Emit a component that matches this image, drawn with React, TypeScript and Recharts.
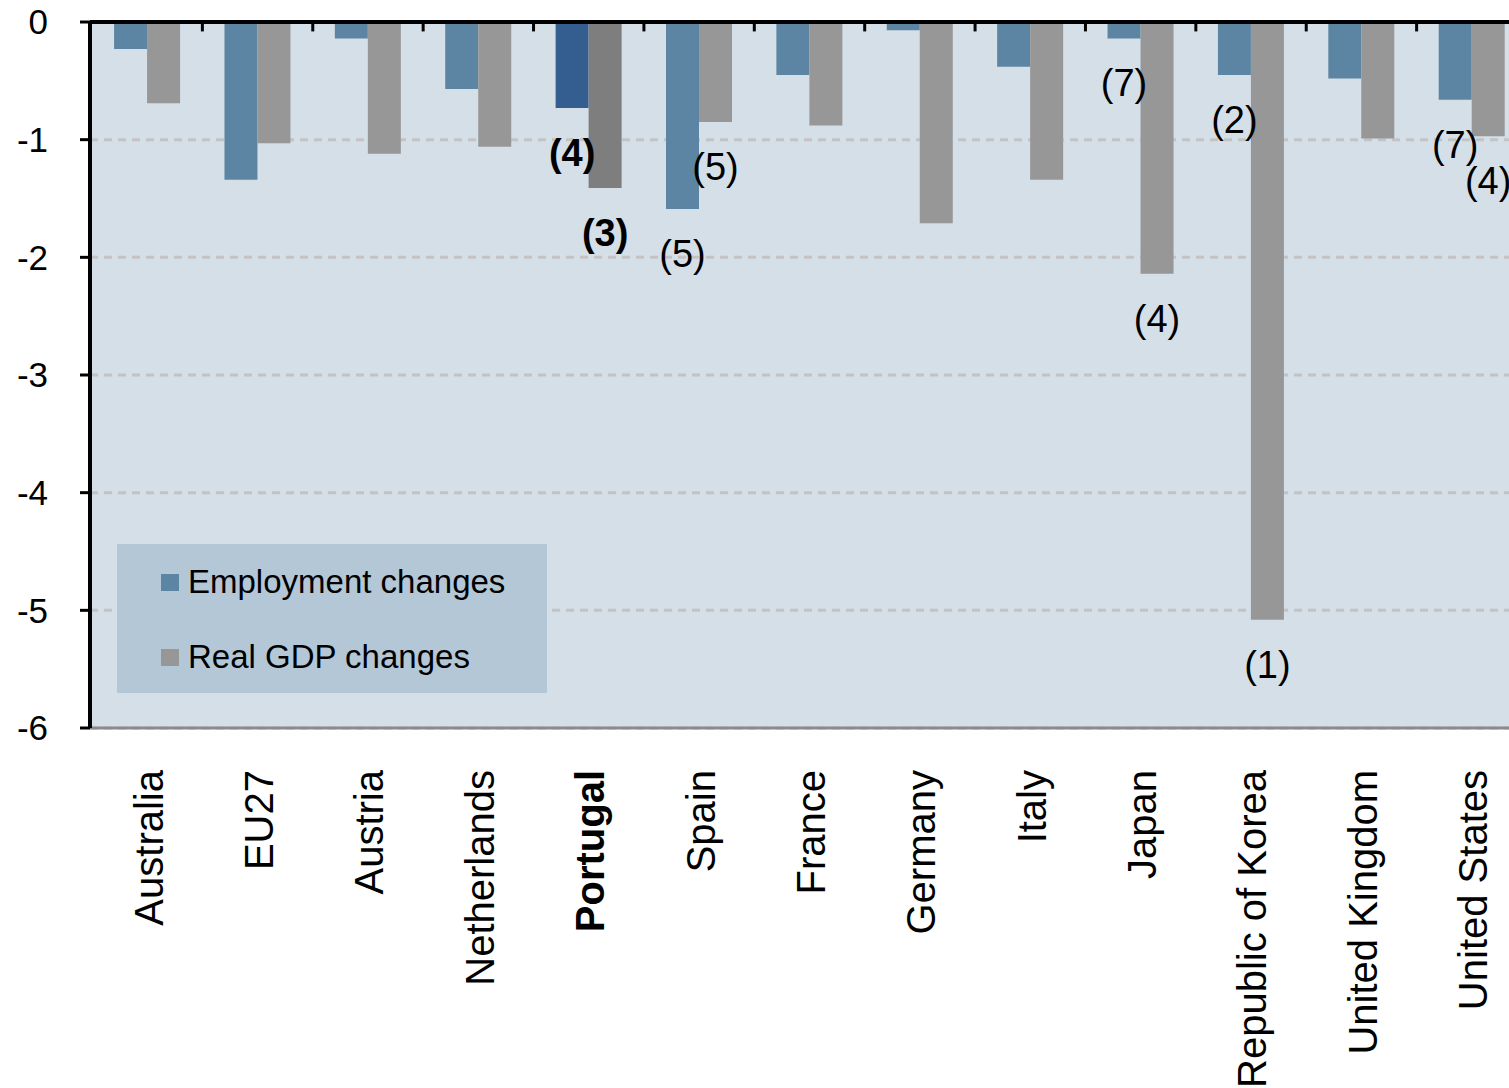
import { BarChart, Bar, XAxis, YAxis, CartesianGrid, Legend, LabelList, Cell, ReferenceLine } from "recharts";

const countries = [
  "Australia", "EU27", "Austria", "Netherlands", "Portugal", "Spain", "France",
  "Germany", "Italy", "Japan", "Republic of Korea", "United Kingdom", "United States",
];
const employment = [-0.23, -1.34, -0.14, -0.57, -0.73, -1.59, -0.45, -0.07, -0.38, -0.14, -0.45, -0.48, -0.66];
const realGdp = [-0.69, -1.03, -1.12, -1.06, -1.41, -0.85, -0.88, -1.71, -1.34, -2.14, -5.08, -0.99, -0.97];
const employmentNotes = ["", "", "", "", "(4)", "(5)", "", "", "", "(7)", "(2)", "", "(7)"];
const gdpNotes = ["", "", "", "", "(3)", "(5)", "", "", "", "(4)", "(1)", "", "(4)"];
const yTicks = [0, -1, -2, -3, -4, -5, -6];
const highlight = "Portugal";

const FONT = "Arial, 'Liberation Sans', sans-serif";
const EMP = "#5b85a2";
const EMP_DARK = "#355e90";
const GDP = "#979797";
const GDP_DARK = "#7e7e7e";

const data = countries.map((c, i) => ({
  country: c,
  emp: employment[i],
  gdp: realGdp[i],
  empNote: employmentNotes[i],
  gdpNote: gdpNotes[i],
}));

const CountryTick = (props: any) => {
  const { x, y, payload } = props;
  const bold = payload.value === highlight;
  return (
    <text
      transform={`translate(${x + 1},${y + 42}) rotate(-90)`}
      textAnchor="end"
      dy="0.36em"
      fontSize={40}
      fontFamily={FONT}
      fontWeight={bold ? "bold" : "normal"}
      fill="#000"
    >
      {payload.value}
    </text>
  );
};

const noteLabel = (props: any) => {
  const { x, y, width, height, value, index } = props;
  if (!value) return null;
  const bottom = Math.max(y, y + height);
  const bold = countries[index] === highlight;
  return (
    <text
      x={x + width / 2}
      y={bottom + 58}
      textAnchor="middle"
      fontSize={38}
      fontFamily={FONT}
      fontWeight={bold ? "bold" : "normal"}
      fill="#000"
    >
      {value}
    </text>
  );
};

const LegendBox = () => (
  <div
    style={{
      position: "relative",
      width: 430,
      height: 149,
      background: "#b3c7d7",
      fontFamily: FONT,
      fontSize: 33,
      color: "#000",
    }}
  >
    {[
      { label: "Employment changes", color: EMP, top: 38 },
      { label: "Real GDP changes", color: GDP, top: 113 },
    ].map((it) => (
      <div key={it.label}>
        <div style={{ position: "absolute", left: 44, top: it.top - 8, width: 18, height: 17, background: it.color }} />
        <div style={{ position: "absolute", left: 71, top: it.top - 19, lineHeight: "38px", whiteSpace: "nowrap" }}>
          {it.label}
        </div>
      </div>
    ))}
  </div>
);

export default function App() {
  return (
    <div style={{ position: "absolute", left: 0, top: 0, width: 1509, height: 1088, overflow: "hidden", background: "#fff" }}>
      <BarChart
        width={1527}
        height={1088}
        data={data}
        margin={{ top: 22, right: 0, bottom: 0, left: 0 }}
        barCategoryGap="20%"
        barGap={0}
      >
        <CartesianGrid
          vertical={false}
          fill="#d5dfe8"
          stroke="#c3c3c3"
          strokeWidth={3}
          strokeDasharray="8 6"
        />
        <XAxis
          dataKey="country"
          height={360}
          interval={0}
          padding={{ left: 2, right: 0 }}
          tickLine={false}
          tickSize={0}
          tickMargin={0}
          axisLine={{ stroke: "#8a8a8a", strokeWidth: 3 }}
          tick={CountryTick}
        />
        <YAxis
          type="number"
          domain={[-6, 0]}
          ticks={yTicks}
          width={90}
          tickSize={10}
          tickMargin={32}
          axisLine={{ stroke: "#000", strokeWidth: 4 }}
          tickLine={{ stroke: "#000", strokeWidth: 3 }}
          tick={{ fontSize: 35, fontFamily: FONT, fill: "#000" }}
        />
        <Legend
          layout="vertical"
          align="center"
          verticalAlign="middle"
          wrapperStyle={{ left: 117, top: 544, width: 430, height: 149 }}
          content={LegendBox}
        />
        <Bar dataKey="emp" name="Employment changes" fill={EMP} isAnimationActive={false}>
          {data.map((d) => (
            <Cell key={d.country} fill={d.country === highlight ? EMP_DARK : EMP} />
          ))}
          <LabelList dataKey="empNote" content={noteLabel} />
        </Bar>
        <Bar dataKey="gdp" name="Real GDP changes" fill={GDP} isAnimationActive={false}>
          {data.map((d) => (
            <Cell key={d.country} fill={d.country === highlight ? GDP_DARK : GDP} />
          ))}
          <LabelList dataKey="gdpNote" content={noteLabel} />
        </Bar>
        <ReferenceLine y={0} stroke="#000" strokeWidth={4} ifOverflow="visible" />
        {countries.slice(1).map((c) => (
          <ReferenceLine
            key={c}
            segment={[{ x: c, y: 0 }, { x: c, y: -0.08 }]}
            position="start"
            stroke="#000"
            strokeWidth={3}
            ifOverflow="visible"
          />
        ))}
      </BarChart>
    </div>
  );
}
